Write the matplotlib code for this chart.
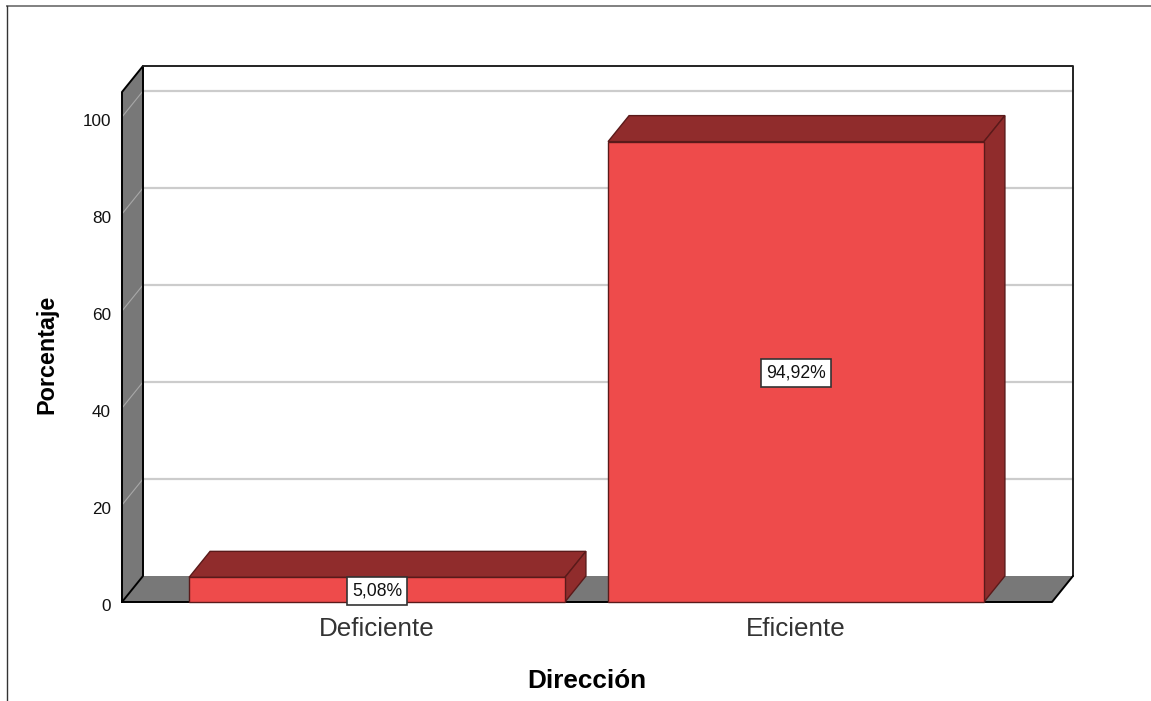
import matplotlib
matplotlib.use("Agg")
import matplotlib.pyplot as plt
from matplotlib.lines import Line2D
from matplotlib.patches import Polygon
from matplotlib.transforms import ScaledTranslation

plt.rcParams["font.family"] = ["Liberation Sans", "DejaVu Sans"]

categories = ["Deficiente", "Eficiente"]
percentages = [5.08, 94.92]
value_labels = ["5,08%", "94,92%"]
y_ticks = [0, 20, 40, 60, 80, 100]

WIDTH, HEIGHT = 1151, 701
BAR_WIDTH = 0.897
WALL = "#787878"
GRID = "#CCCCCC"
FRONT = "#EE4B4B"
DARK = "#902C2C"
EDGE = "#5A1A1A"

fig = plt.figure(figsize=(WIDTH / 100, HEIGHT / 100), dpi=100)
ax = fig.add_axes([122 / WIDTH, 99 / HEIGHT, 930 / WIDTH, 510 / HEIGHT])
ax.set_xlim(-0.6086, 1.611)
ax.set_ylim(0, 105.15)
ax.patch.set_visible(False)
for s in ax.spines.values():
    s.set_visible(False)

x0, x1 = ax.get_xlim()
y1 = ax.get_ylim()[1]
# depth of the fake 3d box, in data units
dx = 21 / 419
dy = 26 / 4.85


def face(pts, color, edge="none", lw=0.0, z=1):
    ax.add_patch(Polygon(pts, closed=True, facecolor=color, edgecolor=edge,
                         linewidth=lw, zorder=z, clip_on=False))


def line(xs, ys, color="black", lw=1.4, z=2):
    ax.plot(xs, ys, color=color, lw=lw, zorder=z, clip_on=False,
            solid_capstyle="round")


# walls and floor
face([(x0, 0), (x0 + dx, dy), (x0 + dx, y1 + dy), (x0, y1)], WALL)
face([(x0, 0), (x1, 0), (x1 + dx, dy), (x0 + dx, dy)], WALL)

for t in y_ticks:
    if t > 0:
        line([x0 + dx, x1 + dx], [t + dy, t + dy], GRID, 1.6, 1.5)
    line([x0, x0 + dx], [t, t + dy], "#A8A8A8", 0.8, 1.5)

line([x0, x0, x0 + dx, x0 + dx, x0], [0, y1, y1 + dy, dy, 0])
line([x0 + dx, x1 + dx, x1 + dx], [y1 + dy, y1 + dy, dy], "#222222")
line([x0, x1, x1 + dx], [0, 0, dy])

# bars
xpos = list(range(len(categories)))
ax.bar(xpos, percentages, BAR_WIDTH, color=FRONT, edgecolor=EDGE, linewidth=1.0,
       zorder=4, clip_on=False)
for x, v, lab in zip(xpos, percentages, value_labels):
    l, r = x - BAR_WIDTH / 2, x + BAR_WIDTH / 2
    face([(l, v), (r, v), (r + dx, v + dy), (l + dx, v + dy)], DARK, EDGE, 1.0, 3)
    face([(r, 0), (r + dx, dy), (r + dx, v + dy), (r, v)], DARK, EDGE, 1.0, 3)
    ax.annotate(lab, (x, v / 2), xytext=(0, -1.0), textcoords="offset points",
                ha="center", va="center", fontsize=12.7, color="#111111", zorder=6,
                bbox=dict(boxstyle="square,pad=0.3", facecolor="white",
                          edgecolor="#333333", linewidth=1.2))

ax.set_xticks(xpos)
ax.set_xticklabels(categories, fontsize=18.7, color="#333333")
ax.set_yticks(y_ticks)
ax.set_yticklabels([str(t) for t in y_ticks], fontsize=12.3, color="#111111")
ax.tick_params(axis="x", length=0, pad=10.5)
ax.tick_params(axis="y", length=0, pad=8)
shift = ScaledTranslation(0, -3 / 100, fig.dpi_scale_trans)
for lab in ax.get_yticklabels():
    lab.set_transform(lab.get_transform() + shift)

ax.set_xlabel("Dirección", fontsize=18.8, fontweight="bold", va="center")
ax.set_ylabel("Porcentaje", fontsize=16.8, fontweight="bold", va="center")
ax.xaxis.set_label_coords(0.5, -0.155)
ax.yaxis.set_label_coords(-0.081, 0.486)

# outer frame of the viewer
fig.add_artist(Line2D([7 / WIDTH, 1], [1 - 5.5 / HEIGHT, 1 - 5.5 / HEIGHT],
                      color="#808080", lw=1.4))
fig.add_artist(Line2D([7.5 / WIDTH, 7.5 / WIDTH], [0, 1 - 5.5 / HEIGHT],
                      color="#333333", lw=1.0))

fig.savefig("out.png", dpi=100)
